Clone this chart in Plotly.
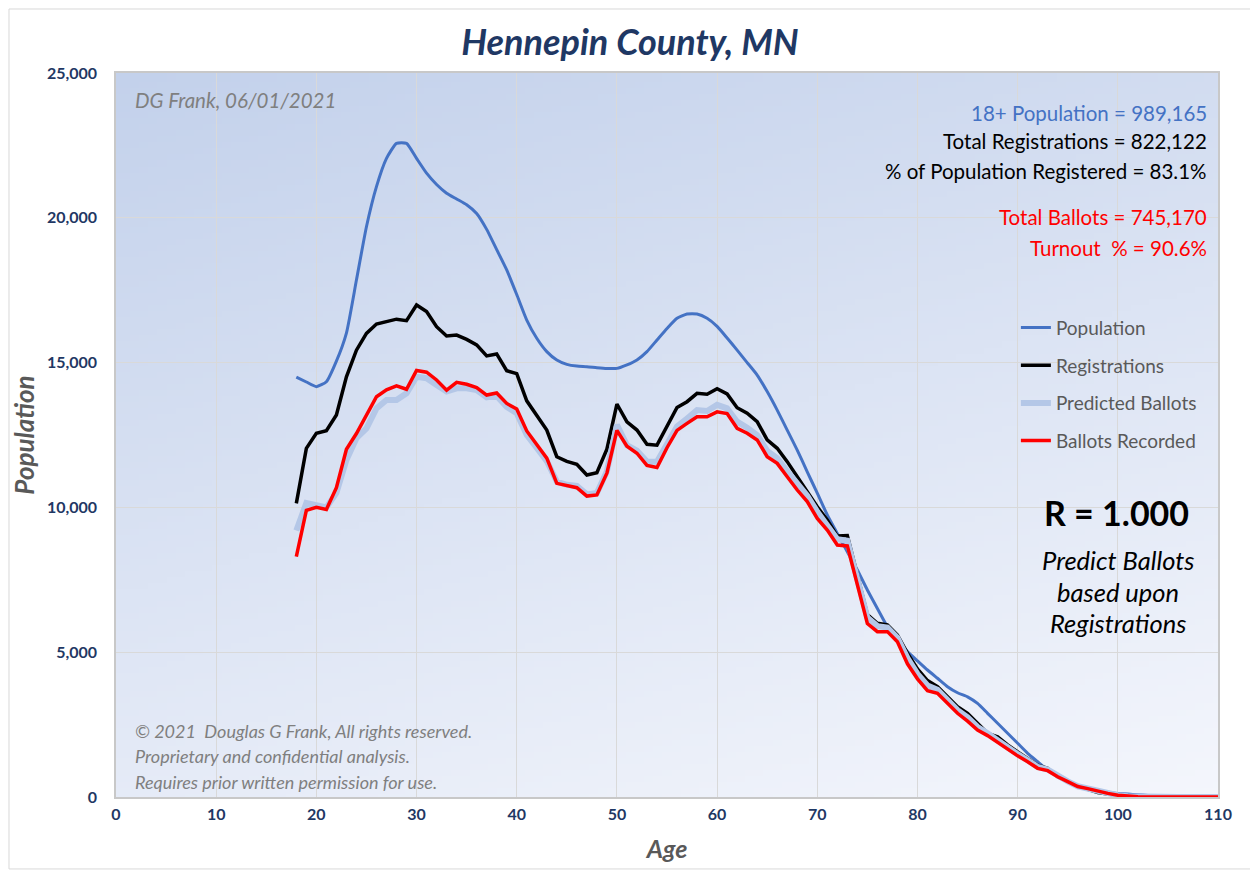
import base64, struct, zlib
import plotly.graph_objects as go

# ---------------- data ----------------
ages = list(range(18, 111))

population = [14500, 14330, 14170, 14340, 15050, 16020, 17850, 19690, 21075, 22050,
              22570, 22570, 22050, 21540, 21150, 20850, 20650, 20450, 20150, 19600,
              18900, 18200, 17350, 16470, 15840, 15380, 15090, 14940, 14880, 14860,
              14825, 14800, 14800, 14920, 15090, 15380, 15780, 16180, 16530, 16680,
              16680, 16530, 16250, 15850, 15430, 15000, 14570, 14000, 13360, 12670,
              11980, 11230, 10490, 9740, 9100, 8470, 7840, 7150, 6510, 5880,
              5420, 5020, 4700, 4385, 4100, 3810, 3600, 3460, 3230, 2890,
              2545, 2200, 1855, 1510, 1220, 930, 700, 530, 380, 265,
              185, 150, 125, 100, 80, 55, 30, 15, 5, 0,
              0, 0, 0]

registrations = [10140, 12040, 12560, 12650, 13190, 14510, 15430, 16010, 16330, 16410,
                 16500, 16450, 16990, 16760, 16240, 15920, 15950, 15800, 15610, 15230,
                 15300, 14720, 14620, 13680, 13160, 12670, 11750, 11590, 11490, 11120,
                 11200, 12010, 13570, 12950, 12670, 12180, 12150, 12800, 13450, 13650,
                 13940, 13910, 14100, 13920, 13440, 13250, 12960, 12330, 12040, 11580,
                 11060, 10540, 10020, 9565, 9010, 9030, 7700, 6300, 6000, 5940,
                 5590, 4970, 4420, 4020, 3810, 3460, 3120, 2890, 2545, 2200,
                 2080, 1800, 1560, 1340, 1100, 990, 700, 530, 380, 265,
                 150, 100, 60, 30, 15, 5, 0, 0, 0, 0,
                 0, 0, 0]

predicted = [9200, 10150, 10080, 10000, 10500, 11640, 12390, 12730, 13420, 13710,
             13710, 13940, 14510, 14460, 14230, 14000, 14110, 14110, 14050, 13800,
             13850, 13470, 13250, 12500, 12050, 11600, 10890, 10780, 10740, 10450,
             10500, 11250, 12850, 12150, 11960, 11580, 11580, 12210, 12790, 13070,
             13360, 13330, 13540, 13420, 12960, 12750, 12500, 11950, 11700, 11250,
             10800, 10400, 9850, 9400, 8900, 8850, 7500, 6200, 5900, 5850,
             5500, 4800, 4250, 3850, 3700, 3350, 3000, 2750, 2420, 2200,
             1950, 1720, 1480, 1270, 1040, 950, 720, 540, 370, 280,
             190, 120, 60, 25, 10, 0, 0, 0, 0, 0,
             0, 0, 0]

ballots = [8300, 9900, 10000, 9930, 10680, 12010, 12550, 13170, 13820, 14060,
           14200, 14080, 14730, 14670, 14400, 14050, 14320, 14250, 14140, 13880,
           13950, 13590, 13400, 12640, 12150, 11700, 10830, 10740, 10680, 10390,
           10430, 11180, 12660, 12110, 11870, 11450, 11380, 12060, 12660, 12900,
           13130, 13130, 13300, 13240, 12730, 12560, 12330, 11750, 11520, 11060,
           10600, 10200, 9620, 9220, 8700, 8670, 7300, 5990, 5710, 5710,
           5360, 4600, 4080, 3670, 3580, 3230, 2890, 2620, 2310, 2120,
           1880, 1650, 1420, 1220, 990, 910, 700, 530, 360, 290,
           200, 125, 60, 25, 10, 0, 0, 0, 0, 0,
           0, 0, 0]

x_ticks = list(range(0, 111, 10))
y_ticks = [0, 5000, 10000, 15000, 20000, 25000]
y_tick_labels = ["0", "5,000", "10,000", "15,000", "20,000", "25,000"]

stats_lines = [
    ("18+ Population = 989,165", "#4472c4"),
    ("Total Registrations = 822,122", "#000000"),
    ("% of Population Registered = 83.1%", "#000000"),
    ("Total Ballots = 745,170", "#ff0000"),
    ("Turnout  % = 90.6%", "#ff0000"),
]
copyright_lines = [
    "© 2021  Douglas G Frank, All rights reserved.",
    "Proprietary and confidential analysis.",
    "Requires prior written permission for use.",
]

# --------------- gradient background (PNG via zlib) ---------------
def gradient_png(w, h, c0, c1):
    rows = []
    for j in range(h):
        row = bytearray([0])
        v = j / (h - 1)
        for i in range(w):
            u = i / (w - 1)
            t = 0.3 * u + 0.7 * v
            for k in range(3):
                row.append(int(round(c0[k] + (c1[k] - c0[k]) * t)))
        rows.append(bytes(row))
    raw = b"".join(rows)

    def chunk(tag, data):
        c = struct.pack(">I", len(data)) + tag + data
        return c + struct.pack(">I", zlib.crc32(tag + data) & 0xffffffff)

    png = b"\x89PNG\r\n\x1a\n"
    png += chunk(b"IHDR", struct.pack(">IIBBBBB", w, h, 8, 2, 0, 0, 0))
    png += chunk(b"IDAT", zlib.compress(raw, 9))
    png += chunk(b"IEND", b"")
    return "data:image/png;base64," + base64.b64encode(png).decode()

bg_src = gradient_png(120, 120, (195, 209, 235), (244, 246, 252))

FONT = "Lato"

fig = go.Figure()
fig.add_trace(go.Scatter(x=ages, y=population, name="Population", mode="lines",
                         line=dict(color="#4472c4", width=3, shape="spline", smoothing=0.5),
                         legendgroup="a"))
fig.add_trace(go.Scatter(x=ages, y=registrations, name="Registrations", mode="lines",
                         line=dict(color="#000000", width=3.5), legendgroup="b"))
fig.add_trace(go.Scatter(x=ages, y=predicted, name="Predicted Ballots", mode="lines",
                         line=dict(color="#b4c7e7", width=6), legendgroup="c"))
fig.add_trace(go.Scatter(x=ages, y=ballots, name="Ballots Recorded", mode="lines",
                         line=dict(color="#ff0000", width=3.5), legendgroup="d"))

annotations = []
annotations.append(dict(text="DG Frank, 06/01/2021", xref="paper", yref="paper",
                        x=0.0154, y=0.9627, xanchor="left", yanchor="middle", showarrow=False,
                        font=dict(family=FONT, size=20.5, color="#7f7f7f", style="italic")))
stat_y = [0.9448, 0.9061, 0.8646, 0.8011, 0.7583]
for (txt, col), yy in zip(stats_lines, stat_y):
    annotations.append(dict(text=txt, xref="paper", yref="paper", x=0.9915, y=yy,
                            xanchor="right", yanchor="middle", showarrow=False,
                            font=dict(family=FONT, size=20.5, color=col)))
annotations.append(dict(text="<b>R = 1.000</b>", xref="paper", yref="paper", x=0.9083, y=0.3936,
                        xanchor="center", yanchor="middle", showarrow=False,
                        font=dict(family=FONT, size=34, color="#000000")))
for txt, yy in zip(["Predict Ballots", "based upon", "Registrations"], [0.3273, 0.2831, 0.2403]):
    annotations.append(dict(text=txt, xref="paper", yref="paper", x=0.9092, y=yy,
                            xanchor="center", yanchor="middle", showarrow=False,
                            font=dict(family=FONT, size=25.5, color="#000000", style="italic")))
for txt, yy in zip(copyright_lines, [0.0912, 0.0566, 0.0207]):
    annotations.append(dict(text=txt, xref="paper", yref="paper", x=0.0154, y=yy,
                            xanchor="left", yanchor="middle", showarrow=False,
                            font=dict(family=FONT, size=18, color="#7f7f7f", style="italic")))

fig.update_layout(
    width=1250, height=866,
    margin=dict(l=108, r=40, t=65, b=77),
    paper_bgcolor="#ffffff",
    plot_bgcolor="#dde5f3",
    title=dict(text="<b><i>Hennepin County, MN</i></b>", x=0.4664, xref="paper", xanchor="center",
               y=1 - 34 / 866, yanchor="middle",
               font=dict(family=FONT, size=36, color="#1f3864")),
    images=[dict(source=bg_src, xref="paper", yref="paper", x=0, y=1, sizex=1, sizey=1,
                 xanchor="left", yanchor="top", sizing="stretch", layer="below")],
    xaxis=dict(range=[0, 110], tickvals=x_ticks, showgrid=True, gridcolor="#d9d9d9", gridwidth=1,
               zeroline=False, showline=True, linecolor="#c8c8c8", linewidth=1.5, mirror=True,
               ticks="outside", ticklen=2, tickcolor="rgba(0,0,0,0)",
               tickfont=dict(family=FONT, size=16, color="#1f3864", weight="bold"),
               title=dict(text="<b><i>Age</i></b>", standoff=19,
                          font=dict(family=FONT, size=25, color="#595959"))),
    yaxis=dict(range=[0, 25000], tickvals=y_ticks, ticktext=y_tick_labels, showgrid=True,
               gridcolor="#d9d9d9", gridwidth=1, zeroline=False, showline=True,
               linecolor="#c8c8c8", linewidth=1.5, mirror=True,
               ticks="outside", ticklen=14, tickcolor="rgba(0,0,0,0)",
               tickfont=dict(family=FONT, size=16, color="#1f3864", weight="bold"),
               title=dict(text="<b><i>Population</i></b>", standoff=5,
                          font=dict(family=FONT, size=26, color="#595959"))),
    legend=dict(x=0.8166, y=0.6745, xanchor="left", yanchor="top", bgcolor="rgba(0,0,0,0)",
                font=dict(family=FONT, size=19, color="#595959"), tracegroupgap=10,
                itemwidth=30),
    annotations=annotations,
    shapes=[dict(type="rect", xref="paper", yref="paper", x0=-0.0971, x1=1.030, y0=-0.0994,
                 y1=1.0884, line=dict(color="#d9d9d9", width=1), fillcolor="rgba(0,0,0,0)",
                 layer="below")],
    showlegend=True,
)

fig.write_html("out.html")
